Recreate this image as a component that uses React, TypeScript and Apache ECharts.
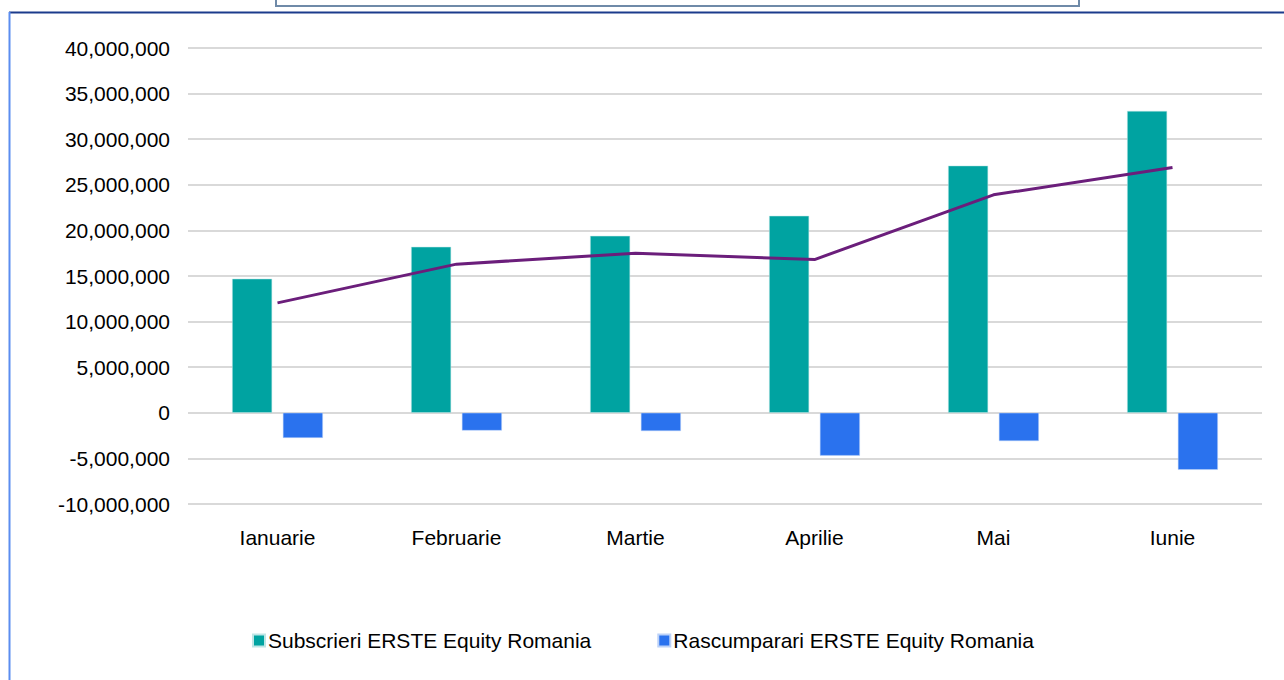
import React, { useEffect, useRef } from "react";
import * as echarts from "echarts";

const categories = ["Ianuarie", "Februarie", "Martie", "Aprilie", "Mai", "Iunie"];
const subscrieri = [14700000, 18200000, 19400000, 21600000, 27100000, 33100000];
const rascumparari = [-2750000, -1950000, -2000000, -4700000, -3100000, -6250000];
const netLine = [12050000, 16300000, 17500000, 16800000, 23900000, 26900000];
const seriesNames = ["Subscrieri ERSTE Equity Romania", "Rascumparari ERSTE Equity Romania", "Net"];

const FONT = "'Liberation Sans', Arial, sans-serif";

function fmt(v: number): string {
  const s = Math.abs(v).toString().replace(/\B(?=(\d{3})+(?!\d))/g, ",");
  return (v < 0 ? "-" : "") + s;
}

export default function App() {
  const ref = useRef<HTMLDivElement>(null);
  useEffect(() => {
    if (!ref.current) return;
    const chart = echarts.init(ref.current, undefined, { renderer: "svg" });
    chart.setOption({
      animation: false,
      backgroundColor: "#ffffff",
      textStyle: { fontFamily: FONT },
      grid: { left: 188, right: 22, top: 48, bottom: 176, containLabel: false },
      legend: {
        data: [seriesNames[0], seriesNames[1]],
        left: 247,
        top: 625,
        icon: "rect",
        itemWidth: 12,
        itemHeight: 12,
        itemGap: 66,
        textStyle: { fontSize: 21, color: "#000", fontFamily: FONT, padding: [0, 0, 0, -2] },
      },
      xAxis: {
        type: "category",
        data: categories,
        axisLine: { show: false, onZero: false },
        axisTick: { show: false },
        axisLabel: { fontSize: 21, color: "#000", margin: 23, fontFamily: FONT },
        splitLine: { show: false },
      },
      yAxis: {
        type: "value",
        min: -10000000,
        max: 40000000,
        interval: 5000000,
        axisLine: { show: false },
        axisTick: { show: false },
        axisLabel: { fontSize: 21, color: "#000", margin: 18, fontFamily: FONT, formatter: (v: number) => fmt(v) },
        splitLine: { lineStyle: { color: "#d9d9d9", width: 2 } },
      },
      series: [
        {
          name: seriesNames[0],
          type: "bar",
          data: subscrieri,
          barWidth: 40,
          barGap: "27%",
          itemStyle: { color: "#00A3A1", borderColor: "#bfe6e6", borderWidth: 0.5 },
        },
        {
          name: seriesNames[1],
          type: "bar",
          data: rascumparari,
          barWidth: 40,
          barGap: "27%",
          itemStyle: { color: "#2A72EE", borderColor: "#bcd2f8", borderWidth: 0.5 },
        },
        {
          name: seriesNames[2],
          type: "line",
          data: netLine,
          showSymbol: false,
          symbol: "none",
          lineStyle: { color: "#6B1E7B", width: 3 },
          z: 5,
        },
      ],
      graphic: [
        {
          type: "rect",
          shape: { x: 276, y: -4, width: 803, height: 10 },
          style: { fill: "#ffffff", stroke: "#6f8aa8", lineWidth: 2 },
          silent: true,
        },
        {
          type: "line",
          shape: { x1: 9, y1: 12.5, x2: 1284, y2: 12.5 },
          style: { stroke: "#1b3b8c", lineWidth: 2 },
          silent: true,
        },
        {
          type: "line",
          shape: { x1: 9.5, y1: 12, x2: 9.5, y2: 680 },
          style: { stroke: "#5b8df0", lineWidth: 2 },
          silent: true,
        },
      ],
    });
    return () => chart.dispose();
  }, []);
  return (
    <div
      ref={ref}
      style={{ position: "fixed", left: 0, top: 0, width: 1284, height: 680, background: "#fff" }}
    />
  );
}
